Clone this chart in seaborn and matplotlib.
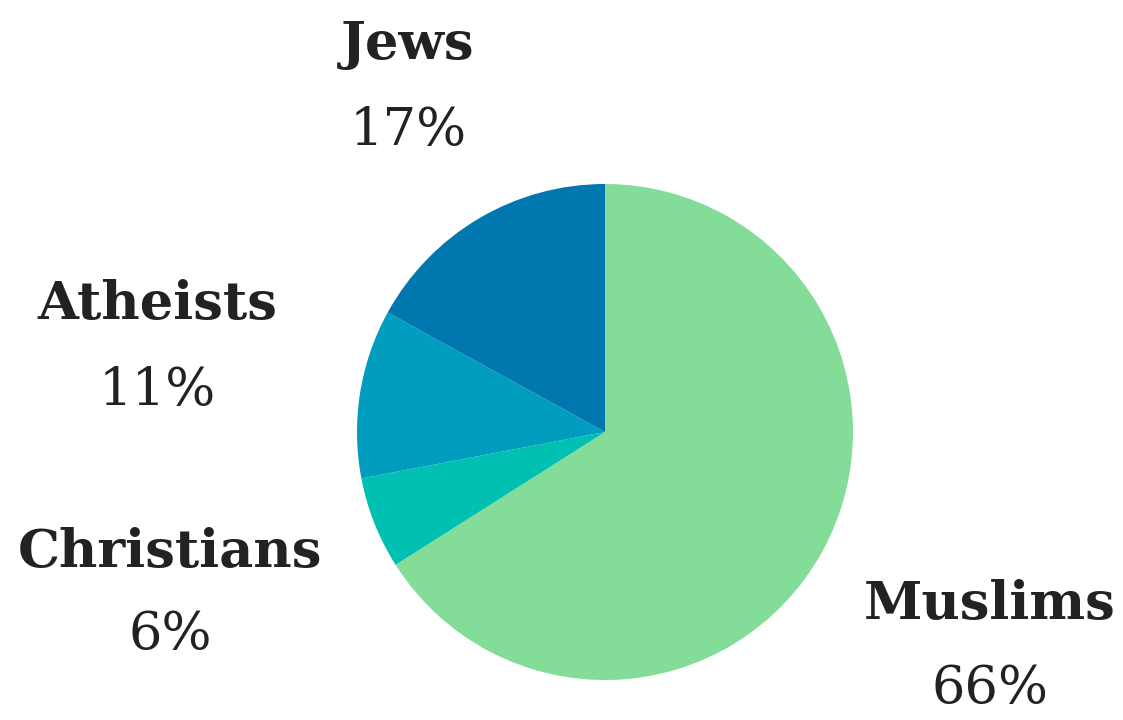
import matplotlib
matplotlib.use("Agg")
import matplotlib.pyplot as plt
import seaborn as sns

categories = ["Muslims", "Christians", "Atheists", "Jews"]
shares = [66, 6, 11, 17]
colors = ["#84DC99", "#00C1B1", "#009DBF", "#0077AE"]

sns.set_theme(style="white")
plt.rcParams["font.family"] = ["DejaVu Serif"]
palette = sns.color_palette(colors)

fig = plt.figure(figsize=(11.23, 7.2), dpi=100)
ax = fig.add_axes([0, 0, 1, 1])
ax.set_xlim(0, 1123)
ax.set_ylim(0, 720)
ax.axis("off")

ax.pie(shares, colors=palette, startangle=90, counterclock=False,
       center=(605, 720 - 432), radius=248, frame=True,
       wedgeprops=dict(linewidth=0))
ax.set_xlim(0, 1123)
ax.set_ylim(0, 720)
ax.set_aspect("equal")
ax.axis("off")

label_pos = {
    "Jews": (408, 45, 130),
    "Atheists": (157, 305, 390),
    "Christians": (170, 552, 635),
    "Muslims": (990, 605, 688),
}
for cat, val in zip(categories, shares):
    x, yn, yp = label_pos[cat]
    ax.text(x, 720 - yn, cat, ha="center", va="center", fontsize=38,
            fontweight="bold", color="#222222")
    ax.text(x, 720 - yp, f"{val}%", ha="center", va="center", fontsize=38,
            color="#222222")

fig.savefig("out.png", dpi=100)
